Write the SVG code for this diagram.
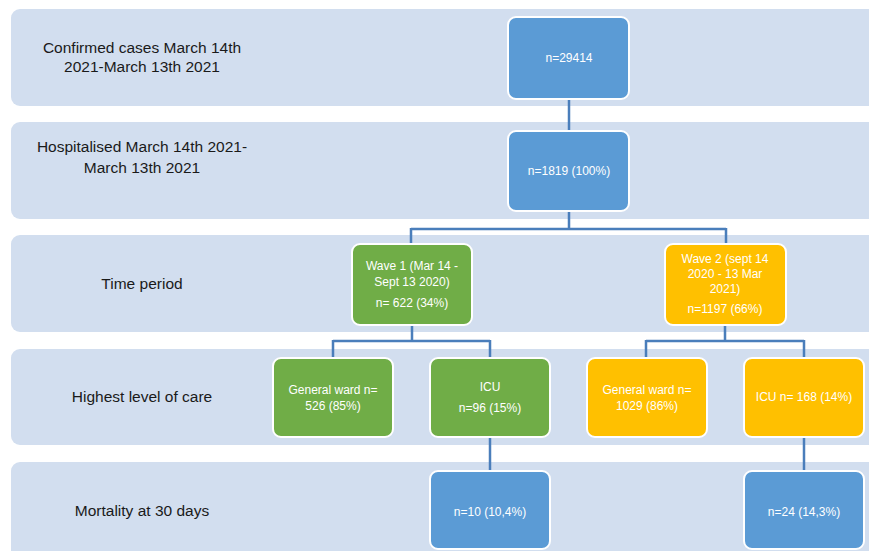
<svg xmlns="http://www.w3.org/2000/svg" width="869" height="551" viewBox="0 0 869 551">
<style>
.band{fill:#D2DEEF;}
.lbl{font-family:"Liberation Sans",Arial,sans-serif;font-size:15.5px;fill:#1a1a1a;text-anchor:middle;}
.nt{font-family:"Liberation Sans",Arial,sans-serif;font-size:12px;fill:#ffffff;text-anchor:middle;}
.blue{fill:#5B9BD5;stroke:#ffffff;stroke-width:2;}
.green{fill:#70AD47;stroke:#ffffff;stroke-width:2;}
.yellow{fill:#FFC000;stroke:#ffffff;stroke-width:2;}
.con{fill:none;stroke:#4A7EBB;stroke-width:2.5;}
</style>
<rect width="869" height="551" fill="#ffffff"/>
<g id="bands">
<rect class="band" x="11" y="9" width="880" height="97" rx="9"/>
<rect class="band" x="11" y="122" width="880" height="97" rx="9"/>
<rect class="band" x="11" y="235" width="880" height="97" rx="9"/>
<rect class="band" x="11" y="349" width="880" height="96" rx="9"/>
<rect class="band" x="11" y="462" width="880" height="110" rx="9"/>
</g>
<g id="row-labels">
<text class="lbl" x="142" y="53">Confirmed cases March 14th</text>
<text class="lbl" x="142" y="72">2021-March 13th 2021</text>
<text class="lbl" x="142" y="152">Hospitalised March 14th 2021-</text>
<text class="lbl" x="142" y="173">March 13th 2021</text>
<text class="lbl" x="142" y="289">Time period</text>
<text class="lbl" x="142" y="402">Highest level of care</text>
<text class="lbl" x="142" y="516">Mortality at 30 days</text>
</g>
<g id="connectors">
<path class="con" d="M569 99 V131"/>
<path class="con" d="M569 211 V229 M411 229 H726 M411 228 V244 M726 228 V244"/>
<path class="con" d="M412 325 V341 M333 341 H490 M333 340 V358 M490 340 V358"/>
<path class="con" d="M725 325 V341 M646 341 H804 M646 340 V358 M804 340 V358"/>
<path class="con" d="M490 437 V471"/>
<path class="con" d="M804 437 V471"/>
</g>
<g id="n-confirmed">
<rect class="blue" x="508" y="17" width="121" height="82" rx="8"/>
<text class="nt" x="569" y="62">n=29414</text>
</g>
<g id="n-hospitalised">
<rect class="blue" x="508" y="131" width="121" height="80" rx="8"/>
<text class="nt" x="569" y="175">n=1819 (100%)</text>
</g>
<g id="n-wave1">
<rect class="green" x="352" y="244" width="120" height="81" rx="8"/>
<text class="nt" x="412" y="270">Wave 1 (Mar 14 -</text>
<text class="nt" x="412" y="286">Sept 13 2020)</text>
<text class="nt" x="412" y="307">n= 622 (34%)</text>
</g>
<g id="n-wave2">
<rect class="yellow" x="665" y="244" width="121" height="81" rx="8"/>
<text class="nt" x="725" y="263">Wave 2 (sept 14</text>
<text class="nt" x="725" y="278">2020 - 13 Mar</text>
<text class="nt" x="725" y="293">2021)</text>
<text class="nt" x="725" y="313">n=1197 (66%)</text>
</g>
<g id="n-gw1">
<rect class="green" x="273" y="358" width="120" height="79" rx="8"/>
<text class="nt" x="333" y="394">General ward n=</text>
<text class="nt" x="333" y="410">526 (85%)</text>
</g>
<g id="n-icu1">
<rect class="green" x="430" y="358" width="120" height="79" rx="8"/>
<text class="nt" x="490" y="391">ICU</text>
<text class="nt" x="490" y="412">n=96 (15%)</text>
</g>
<g id="n-gw2">
<rect class="yellow" x="587" y="358" width="120" height="79" rx="8"/>
<text class="nt" x="647" y="394">General ward n=</text>
<text class="nt" x="647" y="410">1029 (86%)</text>
</g>
<g id="n-icu2">
<rect class="yellow" x="744" y="358" width="120" height="79" rx="8"/>
<text class="nt" x="804" y="401">ICU n= 168 (14%)</text>
</g>
<g id="n-mort1">
<rect class="blue" x="430" y="471" width="120" height="78" rx="8"/>
<text class="nt" x="490" y="516">n=10 (10,4%)</text>
</g>
<g id="n-mort2">
<rect class="blue" x="744" y="471" width="120" height="78" rx="8"/>
<text class="nt" x="804" y="516">n=24 (14,3%)</text>
</g>
</svg>
